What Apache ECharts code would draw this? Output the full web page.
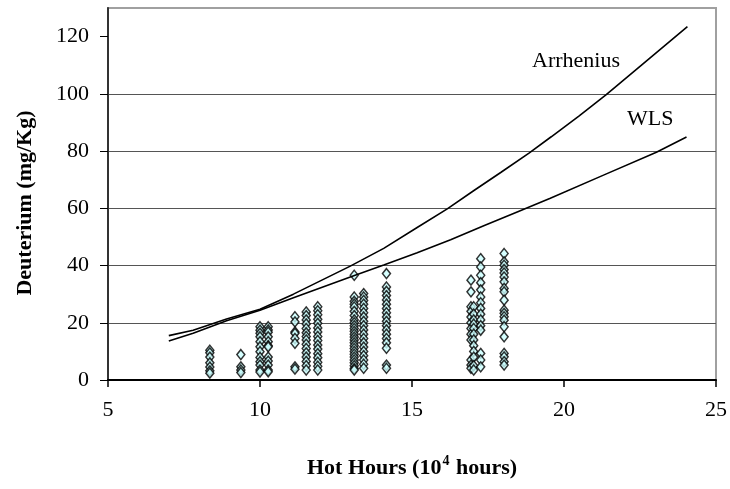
<!DOCTYPE html>
<html>
<head>
<meta charset="utf-8">
<script src="https://cdn.jsdelivr.net/npm/echarts@6/dist/echarts.min.js"></script>
<style>
  html, body { margin: 0; padding: 0; background: #fff; }
  #chart { width: 730px; height: 489px; }
</style>
</head>
<body>
<div id="chart"></div>
<script>
// measured points, one column per hot-hours value
let colX = [8.35, 9.37, 10.0, 10.27, 11.15, 11.52, 11.9, 13.1, 13.41, 14.16, 16.94, 17.03, 17.26, 18.03]
let colY = [
    [10.4, 9.5, 8, 6, 4.5, 3.2, 2.4],
    [8.9, 4.6, 3.5, 2.6],
    [18.6, 17.4, 16.3, 15.1, 13.4, 11.6, 9.9, 7.9, 6.4, 5.2, 3.5, 2.8],
    [18.6, 17.5, 16.7, 15.1, 13.4, 12, 11.6, 8, 6.6, 5.2, 3.5, 2.9],
    [22.1, 20.3, 16.8, 16.3, 14.5, 12.8, 4.6, 3.8],
    [23.8, 22.5, 21, 19.6, 18, 16.5, 15.2, 14, 12.5, 11, 9.5, 8, 6.5, 5, 3.5],
    [25.6, 24.2, 22.8, 21.2, 19.8, 18.2, 16.8, 15.2, 13.8, 12.2, 10.8, 9.2, 7.8, 6.2, 4.8, 3.5],
    [36.6, 29, 27.5, 26.5, 25.5, 24, 22.5, 21, 20, 19, 18, 17, 16, 15, 14, 13, 12, 11, 10, 9, 8, 7, 6, 5, 4, 3.5],
    [30.2, 29, 27.8, 26.5, 25, 23.5, 22, 20.5, 19, 17.5, 16, 14.5, 13, 11.5, 10, 8.5, 7, 5.5, 4.1],
    [37.2, 32.5, 31, 29.5, 28, 26.5, 25, 23.5, 22, 20.5, 19, 17.5, 16, 14.5, 13, 11.1, 5.2, 4.1],
    [34.9, 30.8, 25.6, 24, 22, 20, 18, 16, 14, 7, 5.2, 4.1],
    [25.6, 23, 21, 19.5, 18, 16, 14, 12, 10, 8, 5, 3.5],
    [42.4, 39.5, 36.6, 34, 31.5, 29, 27, 25, 23, 21, 19, 17.4, 9.3, 7, 4.6],
    [44.2, 41.3, 40.1, 38.6, 37.4, 36, 34.3, 32, 30.8, 27.9, 24.4, 23.3, 22.1, 20.9, 18.6, 15.1, 9.3, 8.1, 6.4, 5.2]
]

let arrhenius = [[7, 15.5], [7.8, 17.4], [8.9, 21.3], [10, 24.7], [11.1, 30.0], [12.97, 39.8], [14.07, 46.0],
    [15.17, 53.3], [16.16, 59.8], [17.05, 66.3], [17.93, 72.6], [18.86, 79.4], [19.58, 85.0],
    [20.5, 92.3], [21.39, 99.7], [22.5, 109.6], [23.53, 118.8], [24.06, 123.5]]
let wls = [[7, 13.6], [7.8, 16.3], [8.9, 20.7], [10, 24.4], [11.1, 28.7], [12.97, 36.0], [14.07, 40.2],
    [15.17, 44.5], [16.27, 49.0], [17.38, 54.0], [18.48, 58.8], [19.55, 63.5], [21.3, 71.6],
    [23.04, 79.6], [24.03, 84.9]]

let yTicks = [0, 20, 40, 60, 80, 100, 120]

let points = []
for (let i = 0; i < colX.length; i++) {
    for (let v of colY[i]) {
        points.push([colX[i], v])
    }
}

let font = '"Liberation Serif", "Times New Roman", serif'

var myChart = echarts.init(document.getElementById('chart'))

var option = {
    animation: false,
    grid: {
        left: 108, right: 14, top: 8, bottom: 109,
        show: true,
        borderColor: '#a0a0a0',
        borderWidth: 2
    },
    xAxis: {
        type: 'value',
        min: 5, max: 25, interval: 5,
        name: '{a|Hot Hours (10}{s|4}{a| hours)}',
        nameLocation: 'middle',
        nameGap: 74,
        nameTextStyle: {
            rich: {
                a: { fontFamily: font, fontSize: 22, fontWeight: 'bold', color: '#000' },
                s: { fontFamily: font, fontSize: 14, fontWeight: 'bold', color: '#000', padding: [0, 1, 14, 1] }
            }
        },
        axisLine: { lineStyle: { color: '#000', width: 2 } },
        axisTick: { inside: false, length: 7, lineStyle: { color: '#000', width: 1.5 } },
        axisLabel: { fontFamily: font, fontSize: 22, color: '#000', margin: 19 },
        splitLine: { show: false }
    },
    yAxis: {
        type: 'value',
        min: 0, max: 130, interval: 20,
        name: 'Deuterium (mg/Kg)',
        nameLocation: 'middle',
        nameGap: 72,
        nameTextStyle: { fontFamily: font, fontSize: 22, fontWeight: 'bold', color: '#000', padding: [0, 18, 0, 0] },
        axisLine: { show: true, lineStyle: { color: '#333', width: 2 } },
        axisTick: { show: true, inside: false, length: 8, customValues: yTicks, lineStyle: { color: '#000', width: 1 } },
        axisLabel: { fontFamily: font, fontSize: 22, color: '#000', margin: 19, customValues: yTicks },
        splitLine: { show: true, showMinLine: false, showMaxLine: false, lineStyle: { color: '#555', width: 1 } }
    },
    series: [{
        name: 'data',
        type: 'scatter',
        data: points,
        symbol: 'diamond',
        symbolSize: [8, 10],
        itemStyle: { color: '#ccffff', borderColor: '#000', borderWidth: 1.5 }
    }, {
        name: 'Arrhenius',
        type: 'line',
        data: arrhenius,
        showSymbol: false,
        lineStyle: { color: '#000', width: 1.6 }
    }, {
        name: 'WLS',
        type: 'line',
        data: wls,
        showSymbol: false,
        lineStyle: { color: '#000', width: 1.6 }
    }],
    graphic: [{
        type: 'text', left: 532, top: 50,
        style: { text: 'Arrhenius', font: '22px ' + font, fill: '#000' }
    }, {
        type: 'text', left: 627, top: 108,
        style: { text: 'WLS', font: '22px ' + font, fill: '#000' }
    }]
}

myChart.setOption(option)
</script>
</body>
</html>
